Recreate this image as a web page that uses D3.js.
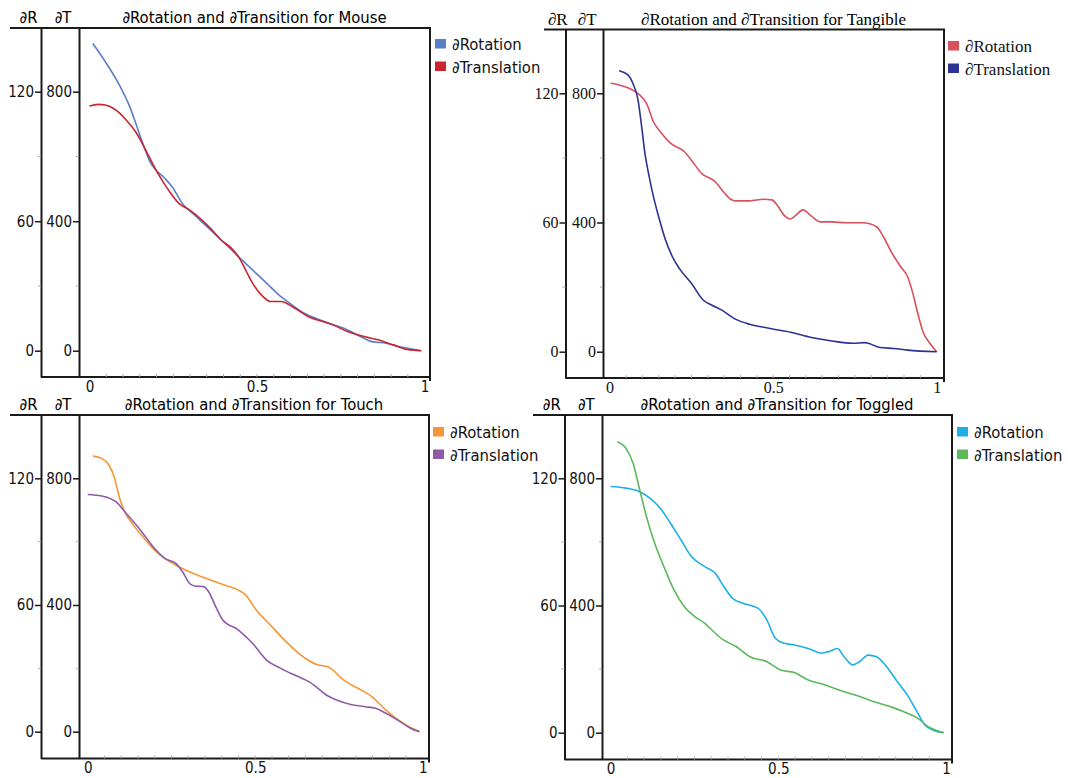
<!DOCTYPE html>
<html>
<head>
<meta charset="utf-8">
<script src="https://cdn.jsdelivr.net/npm/d3@7"></script>
<style>
  body { margin: 0; background: #fff; }
</style>
</head>
<body>
<svg id="chart" width="1068" height="778"></svg>
<script>
// tick labels
const rTicks = [0, 60, 120]
const tTicks = [0, 400, 800]
const xTicks = [0, 0.5, 1]
const seriesNames = ["∂Rotation", "∂Translation"]
const titles = [
  "∂Rotation and ∂Transition for Mouse",
  "∂Rotation and ∂Transition for Tangible",
  "∂Rotation and ∂Transition for Touch",
  "∂Rotation and ∂Transition for Toggled"
]

// [x, ∂T value] pairs
const mouseRotation = [[0.01,949],[0.047,893],[0.089,821],[0.12,754],[0.152,661],[0.183,579],[0.194,563],[0.225,532],[0.246,507],[0.277,455],[0.319,414],[0.361,373],[0.403,332],[0.445,290],[0.487,249],[0.529,208],[0.571,167],[0.592,151],[0.634,120],[0.675,100],[0.717,84],[0.759,69],[0.801,48],[0.843,28],[0.885,23],[0.927,12],[0.99,0]]
const mouseTranslation = [[0,756],[0.026,761],[0.047,759],[0.079,743],[0.11,712],[0.141,671],[0.173,609],[0.204,548],[0.236,496],[0.267,455],[0.298,435],[0.33,409],[0.361,378],[0.393,342],[0.424,316],[0.445,290],[0.466,249],[0.487,208],[0.518,167],[0.539,152],[0.571,152],[0.613,131],[0.654,105],[0.696,90],[0.728,79],[0.77,59],[0.822,43],[0.864,33],[0.906,18],[0.948,4],[0.99,0]]

const tangibleRotation = [[0.003,831],[0.029,826],[0.061,815],[0.092,795],[0.113,769],[0.134,712],[0.155,681],[0.187,645],[0.229,619],[0.25,593],[0.281,552],[0.323,526],[0.344,500],[0.37,472],[0.386,467],[0.428,467],[0.47,472],[0.496,470],[0.512,454],[0.533,423],[0.552,411],[0.57,423],[0.591,439],[0.617,420],[0.644,402],[0.68,402],[0.722,399],[0.774,399],[0.816,387],[0.837,356],[0.864,304],[0.89,263],[0.911,232],[0.927,181],[0.942,119],[0.958,62],[0.979,26],[1,0]]
const tangibleTranslation = [[0.029,870],[0.056,857],[0.071,831],[0.087,779],[0.098,697],[0.108,614],[0.119,552],[0.134,480],[0.15,418],[0.171,346],[0.192,294],[0.213,258],[0.25,212],[0.286,160],[0.313,144],[0.339,131],[0.386,100],[0.428,85],[0.491,72],[0.554,60],[0.617,44],[0.68,33],[0.743,26],[0.78,28],[0.827,13],[0.869,10],[0.911,5],[1,0]]

const touchRotation = [[0.016,870],[0.042,863],[0.063,842],[0.079,805],[0.094,742],[0.11,695],[0.136,653],[0.168,611],[0.199,574],[0.23,547],[0.272,521],[0.314,500],[0.366,479],[0.408,463],[0.45,447],[0.471,432],[0.503,384],[0.545,337],[0.597,279],[0.649,232],[0.686,211],[0.717,205],[0.764,163],[0.806,137],[0.848,111],[0.89,68],[0.942,26],[0.99,0]]
const touchTranslation = [[0,749],[0.042,744],[0.084,726],[0.115,689],[0.157,637],[0.199,579],[0.23,547],[0.262,532],[0.283,505],[0.304,468],[0.319,460],[0.346,458],[0.361,442],[0.382,395],[0.403,353],[0.45,321],[0.492,279],[0.534,226],[0.576,200],[0.628,174],[0.66,158],[0.681,142],[0.712,116],[0.743,100],[0.785,86],[0.827,79],[0.859,74],[0.89,58],[0.932,32],[0.963,11],[0.99,0]]

const toggledRotation = [[0,774],[0.046,769],[0.087,758],[0.118,737],[0.148,706],[0.179,658],[0.21,606],[0.241,554],[0.281,522],[0.312,501],[0.338,459],[0.363,423],[0.394,407],[0.44,391],[0.466,354],[0.491,297],[0.517,281],[0.548,276],[0.589,265],[0.63,250],[0.65,255],[0.676,265],[0.696,239],[0.722,213],[0.742,223],[0.768,244],[0.793,239],[0.819,213],[0.855,160],[0.885,118],[0.911,71],[0.937,24],[0.962,8],[0.993,0]]
const toggledTranslation = [[0.02,915],[0.046,894],[0.067,847],[0.087,763],[0.107,679],[0.128,606],[0.159,522],[0.189,449],[0.22,396],[0.251,365],[0.281,344],[0.302,323],[0.333,294],[0.374,271],[0.415,239],[0.466,223],[0.507,197],[0.548,189],[0.589,166],[0.64,150],[0.681,134],[0.732,118],[0.783,98],[0.834,82],[0.885,61],[0.916,45],[0.947,19],[0.993,0]]

const sans = "'Liberation Sans Narrow', 'DejaVu Sans Condensed', 'Noto Sans', sans-serif"
const serif = "'Liberation Serif', 'DejaVu Serif', serif"

// frame of each panel in page pixels
const panels = [
  {title: titles[0], data: [mouseRotation, mouseTranslation], colors: ["#5b7fc7", "#c9252f"], font: sans,
   left: 10, rAxis: 41, tAxis: 79, right: 430, top: 28, bottom: 377, xr: [89.5, 424.6], yr: [350.7, 91.7], legend: [435, 39]},
  {title: titles[1], data: [tangibleRotation, tangibleTranslation], colors: ["#d9515f", "#2e3191"], font: serif,
   left: 544, rAxis: 565.5, tAxis: 603, right: 944, top: 29.5, bottom: 378, xr: [609.6, 936.7], yr: [351.7, 93.3], legend: [948, 41]},
  {title: titles[2], data: [touchRotation, touchTranslation], colors: ["#f79637", "#8e5ba8"], font: sans,
   left: 10, rAxis: 41, tAxis: 79, right: 429, top: 415, bottom: 758.5, xr: [87.7, 422.8], yr: [731.7, 478.3], legend: [433, 427]},
  {title: titles[3], data: [toggledRotation, toggledTranslation], colors: ["#1cb0e6", "#5db85c"], font: sans,
   left: 533, rAxis: 564.5, tAxis: 602, right: 952, top: 415, bottom: 759.5, xr: [610.6, 946], yr: [732.7, 478.3], legend: [957, 427]}
]

const svg = d3.select("#chart")

panels.forEach(p => {
  const g = svg.append("g").attr("font-family", p.font)
  const isSerif = p.font === serif
  const fs = isSerif ? 16 : 15
  const headFs = isSerif ? 17 : 16.5

  const x = d3.scaleLinear().domain([0, 1]).range(p.xr)
  const y = d3.scaleLinear().domain([0, 800]).range(p.yr)
  // stretch the scales to the frame so the axis lines cover it
  const xFull = x.copy().domain([x.invert(p.tAxis), x.invert(p.right)]).range([p.tAxis, p.right])
  const yFull = y.copy().domain([y.invert(p.bottom), y.invert(p.top)]).range([p.bottom, p.top])
  const yR = yFull.copy().domain(yFull.domain().map(v => v * 120 / 800))

  // ∂R axis
  const rAxis = g.append("g")
    .attr("transform", `translate(${p.rAxis},0)`)
    .call(d3.axisLeft(yR).tickValues(rTicks).tickSize(6).tickSizeOuter(0).tickPadding(1))
  rAxis.append("g").selectAll("line").data([30, 90]).join("line")
    .attr("x1", -3).attr("x2", 0).attr("y1", d => yR(d)).attr("y2", d => yR(d))
    .attr("stroke", "#aaa")

  // ∂T axis
  const tAxis = g.append("g")
    .attr("transform", `translate(${p.tAxis},0)`)
    .call(d3.axisLeft(yFull).tickValues(tTicks).tickSize(6).tickSizeOuter(0).tickPadding(1))
  tAxis.append("g").selectAll("line").data([200, 600]).join("line")
    .attr("x1", -3).attr("x2", 0).attr("y1", d => yFull(d)).attr("y2", d => yFull(d))
    .attr("stroke", "#aaa")

  // bottom axis
  const xAxis = g.append("g")
    .attr("transform", `translate(0,${p.bottom})`)
    .call(d3.axisBottom(xFull).tickValues(xTicks).tickSize(0).tickSizeOuter(0).tickPadding(4)
      .tickFormat(d => d === 0 || d === 1 ? d : d3.format(".1f")(d)))
  xAxis.append("g").selectAll("line").data(d3.range(1, 20).map(i => i / 20)).join("line")
    .attr("x1", d => xFull(d)).attr("x2", d => xFull(d)).attr("y1", -3).attr("y2", 0)
    .attr("stroke", "#aaa")

  ;[rAxis, tAxis, xAxis].forEach(a => {
    a.attr("font-family", p.font).attr("font-size", fs)
    a.select(".domain").attr("stroke", "#1a1a1a").attr("stroke-width", 2)
    a.selectAll(".tick line").attr("stroke", "#1a1a1a").attr("stroke-width", 1.5)
    a.selectAll(".tick text").attr("fill", "#111")
  })
  xAxis.select(".domain").attr("d", `M${p.rAxis},0H${p.right}`)

  // top rule and right border
  g.append("line").attr("x1", p.left).attr("x2", p.right + 1).attr("y1", p.top).attr("y2", p.top)
    .attr("stroke", "#1a1a1a").attr("stroke-width", 2)
  g.append("line").attr("x1", p.right).attr("x2", p.right).attr("y1", p.top).attr("y2", p.bottom + 4)
    .attr("stroke", "#1a1a1a").attr("stroke-width", 2)

  // header texts
  g.append("text").attr("x", (p.left + p.rAxis) / 2 + 3).attr("y", p.top - 5)
    .attr("text-anchor", "middle").attr("font-size", headFs).text("∂R")
  g.append("text").attr("x", (p.rAxis + p.tAxis) / 2 + 3).attr("y", p.top - 5)
    .attr("text-anchor", "middle").attr("font-size", headFs).text("∂T")
  g.append("text").attr("x", (p.tAxis + p.right) / 2).attr("y", p.top - 5)
    .attr("text-anchor", "middle").attr("font-size", headFs).text(p.title)

  // curves
  const line = d3.line().x(d => x(d[0])).y(d => y(d[1])).curve(d3.curveMonotoneX)
  g.selectAll("path.series").data(p.data).join("path")
    .attr("class", "series")
    .attr("d", line)
    .attr("fill", "none")
    .attr("stroke", (d, i) => p.colors[i])
    .attr("stroke-width", 1.6)

  // legend
  const lg = g.append("g").attr("transform", `translate(${p.legend[0]},${p.legend[1]})`)
  seriesNames.forEach((name, i) => {
    lg.append("rect").attr("x", 0).attr("y", i * 22.5).attr("width", 11).attr("height", 9.5)
      .attr("fill", p.colors[i])
    lg.append("text").attr("x", 17).attr("y", i * 22.5 + 11).attr("font-size", headFs)
      .attr("fill", "#111").text(name)
  })
})
</script>
</body>
</html>
